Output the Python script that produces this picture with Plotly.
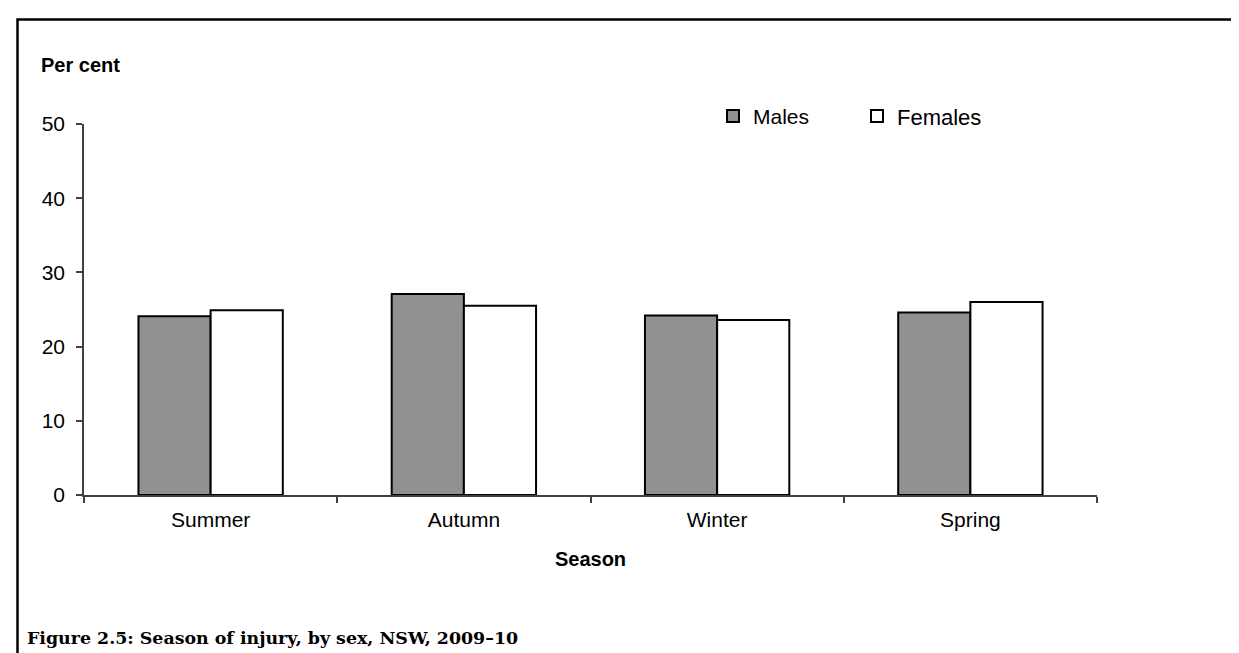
import plotly.graph_objects as go

seasons = ["Summer", "Autumn", "Winter", "Spring"]
males = [24.1, 27.1, 24.2, 24.6]
females = [24.9, 25.5, 23.6, 26.0]
y_ticks = [0, 10, 20, 30, 40, 50]

W, H = 1239, 653
L, R, T, B = 76, 1089, 115.7, 487.0

def px(x):
    return (x - L) / (R - L)

def py(y):
    return (B - y) / (B - T)

fig = go.Figure()
fig.add_trace(go.Bar(
    x=seasons, y=males, name="Males",
    marker=dict(color="#919191", line=dict(color="black", width=2)),
    legend="legend", showlegend=True,
))
fig.add_trace(go.Bar(
    x=seasons, y=females, name="Females",
    marker=dict(color="white", line=dict(color="black", width=2)),
    legend="legend2", showlegend=True,
))

font = "Liberation Sans, Arial, sans-serif"

fig.update_layout(
    width=W, height=H,
    showlegend=True,
    margin=dict(l=L, r=W - R, t=T, b=H - B, pad=0),
    paper_bgcolor="white", plot_bgcolor="white",
    barmode="group", bargap=0.43, bargroupgap=0,
    font=dict(family=font, size=21, color="black"),
    xaxis=dict(
        showline=True, linecolor="#404040", linewidth=1.5,
        ticks="outside", tickson="boundaries", ticklen=6, tickcolor="#404040", tickwidth=1.5,
        showgrid=False, zeroline=False,
        tickfont=dict(size=21), ticklabelstandoff=5,
        title=dict(text="<b>Season</b>", font=dict(size=20), standoff=22),
    ),
    yaxis=dict(
        range=[0, 50], tickvals=y_ticks,
        showline=True, linecolor="#404040", linewidth=1.5,
        ticks="outside", ticklen=6, tickcolor="#404040", tickwidth=1.5,
        showgrid=False, zeroline=False,
        tickfont=dict(size=21), ticklabelstandoff=7,
    ),
    legend=dict(
        x=px(705), y=py(108), xanchor="left", yanchor="middle",
        orientation="h", font=dict(size=21), bgcolor="rgba(0,0,0,0)",
        itemwidth=30,
    ),
    legend2=dict(
        x=px(849), y=py(108), xanchor="left", yanchor="middle",
        orientation="h", font=dict(size=22), bgcolor="rgba(0,0,0,0)",
        itemwidth=30,
    ),
    annotations=[
        dict(text="<b>Per cent</b>", x=px(31), y=py(57), xref="paper", yref="paper",
             xanchor="left", yanchor="middle", showarrow=False, font=dict(size=20)),
        dict(text="<b>Figure 2.5: Season of injury, by sex, NSW, 2009–10</b>",
             x=px(17), y=py(630), xref="paper", yref="paper",
             xanchor="left", yanchor="middle", showarrow=False,
             font=dict(family="DejaVu Serif, Liberation Serif, serif", size=17.4)),
    ],
    shapes=[
        dict(type="path", xref="paper", yref="paper",
             path=f"M {px(9.5)} {py(700)} L {px(9.5)} {py(11)} L {px(1300)} {py(11)}",
             line=dict(color="black", width=2.5)),
    ],
)

fig.write_html("out.html")
